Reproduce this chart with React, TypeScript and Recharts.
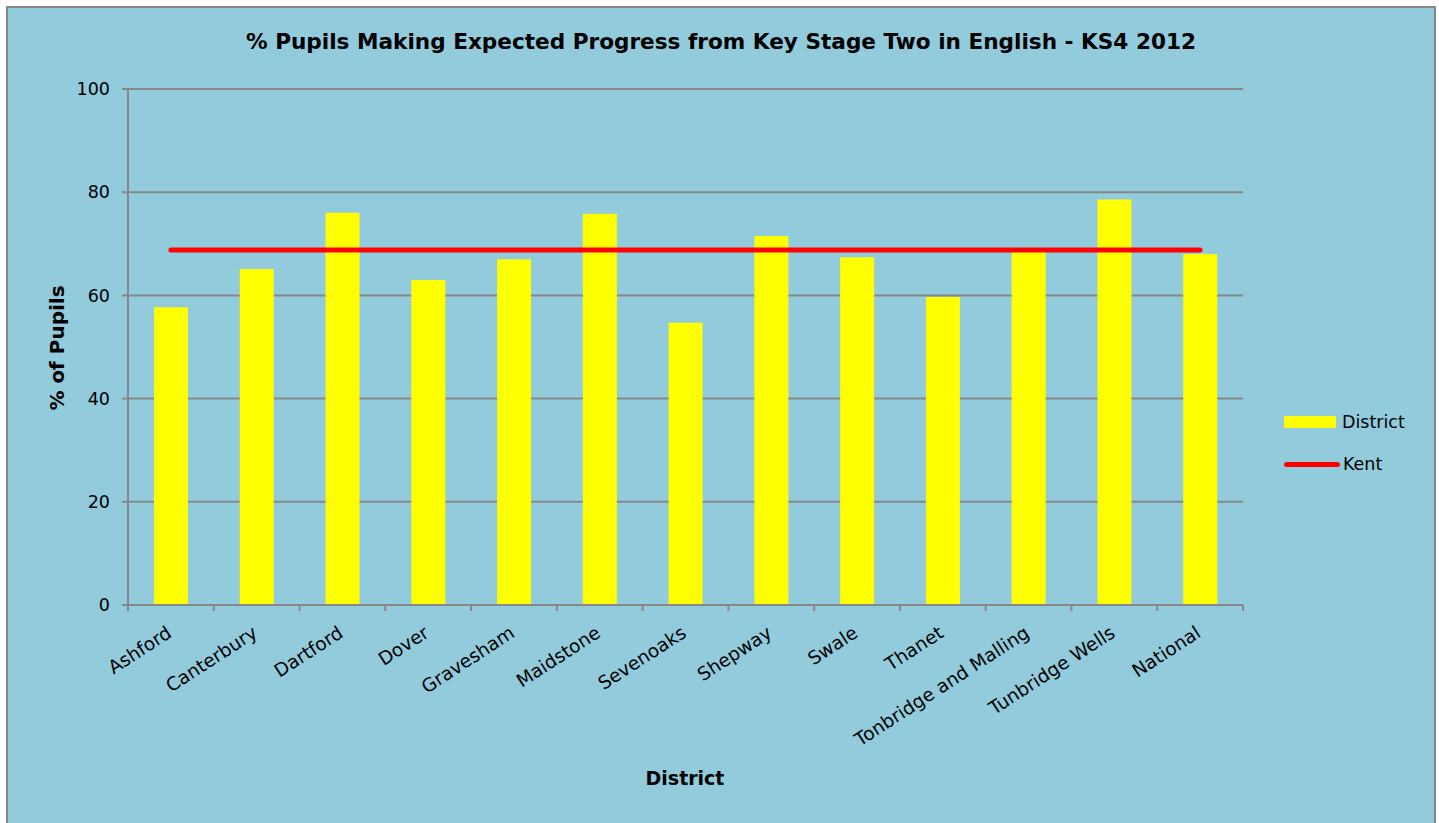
import { ComposedChart, Bar, Line, XAxis, YAxis, CartesianGrid } from 'recharts'

const districts = [
  'Ashford', 'Canterbury', 'Dartford', 'Dover', 'Gravesham', 'Maidstone', 'Sevenoaks',
  'Shepway', 'Swale', 'Thanet', 'Tonbridge and Malling', 'Tunbridge Wells', 'National',
]
const districtValues = [57.7, 65.1, 76.0, 63.0, 67.0, 75.8, 54.7, 71.5, 67.4, 59.7, 68.4, 78.6, 68.0]
const kentValues = [68.8, 68.8, 68.8, 68.8, 68.8, 68.8, 68.8, 68.8, 68.8, 68.8, 68.8, 68.8, 68.8]
const yTicks = [0, 20, 40, 60, 80, 100]

const data = districts.map((name, i) => ({ name, district: districtValues[i], kent: kentValues[i] }))

const FONT = '"DejaVu Sans", Tahoma, sans-serif'
const GREY = '#878787'
const BAND = 1115 / districts.length

function CategoryTick(props: any) {
  const { x, y, payload, index } = props
  return (
    <g>
      <line x1={x - BAND / 2} y1={y - 8} x2={x - BAND / 2} y2={y - 2} stroke={GREY} strokeWidth={2} />
      {index === districts.length - 1 && (
        <line x1={x + BAND / 2} y1={y - 8} x2={x + BAND / 2} y2={y - 2} stroke={GREY} strokeWidth={2} />
      )}
      <g transform={`translate(${x + 2},${y + 23})`}>
        <text textAnchor="end" transform="rotate(-33)" fontSize={18.5} fill="#000" fontFamily={FONT}>
          {payload.value}
        </text>
      </g>
    </g>
  )
}

export default function App() {
  return (
    <div style={{ position: 'absolute', left: 0, top: 0, width: 1439, height: 823, background: '#fff', overflow: 'hidden' }}>
      <div
        style={{
          position: 'absolute', left: 6, top: 6, width: 1426, height: 830,
          border: `2px solid ${GREY}`, background: '#92cbdc', fontFamily: FONT,
        }}
      >
        <div style={{ position: 'absolute', left: 0, width: 1426, top: 21, textAlign: 'center', fontSize: 21.6, fontWeight: 'bold', color: '#000' }}>
          % Pupils Making Expected Progress from Key Stage Two in English - KS4 2012
        </div>
        <div style={{ position: 'absolute', left: 49, top: 340, width: 0, height: 0 }}>
          <div style={{ transform: 'translate(-50%,-50%) rotate(-90deg)', whiteSpace: 'nowrap', fontSize: 20, fontWeight: 'bold', position: 'absolute' }}>
            % of Pupils
          </div>
        </div>
        <div style={{ position: 'absolute', left: 577, width: 200, top: 759, textAlign: 'center', fontSize: 19, fontWeight: 'bold' }}>
          District
        </div>
        <div style={{ position: 'absolute', left: 1276, top: 402, fontSize: 17.5 }}>
          <div style={{ display: 'flex', alignItems: 'center', height: 24 }}>
            <span style={{ display: 'inline-block', width: 52, height: 12, background: '#ffff00', marginRight: 6 }} />
            District
          </div>
          <div style={{ display: 'flex', alignItems: 'center', height: 24, marginTop: 18 }}>
            <span style={{ display: 'inline-block', width: 56, height: 5, borderRadius: 3, background: '#ff0000', marginRight: 3 }} />
            Kent
          </div>
        </div>
        <ComposedChart width={1426} height={815} data={data} margin={{ top: 81, right: 191, left: 60, bottom: 58 }}>
          <CartesianGrid vertical={false} stroke={GREY} strokeWidth={2} />
          <XAxis
            dataKey="name"
            height={160}
            interval={0}
            stroke={GREY}
            strokeWidth={2}
            tickLine={false}
            tick={<CategoryTick />}
          />
          <YAxis
            width={60}
            domain={[0, 100]}
            ticks={yTicks}
            stroke={GREY}
            strokeWidth={2}
            tickSize={6}
            tickMargin={12}
            tick={{ fontSize: 17.5, fill: '#000', fontFamily: FONT }}
          />
          <Bar dataKey="district" fill="#ffff00" barSize={34} isAnimationActive={false} />
          <Line dataKey="kent" stroke="#ff0000" strokeWidth={5} strokeLinecap="round" dot={false} isAnimationActive={false} />
        </ComposedChart>
      </div>
    </div>
  )
}
